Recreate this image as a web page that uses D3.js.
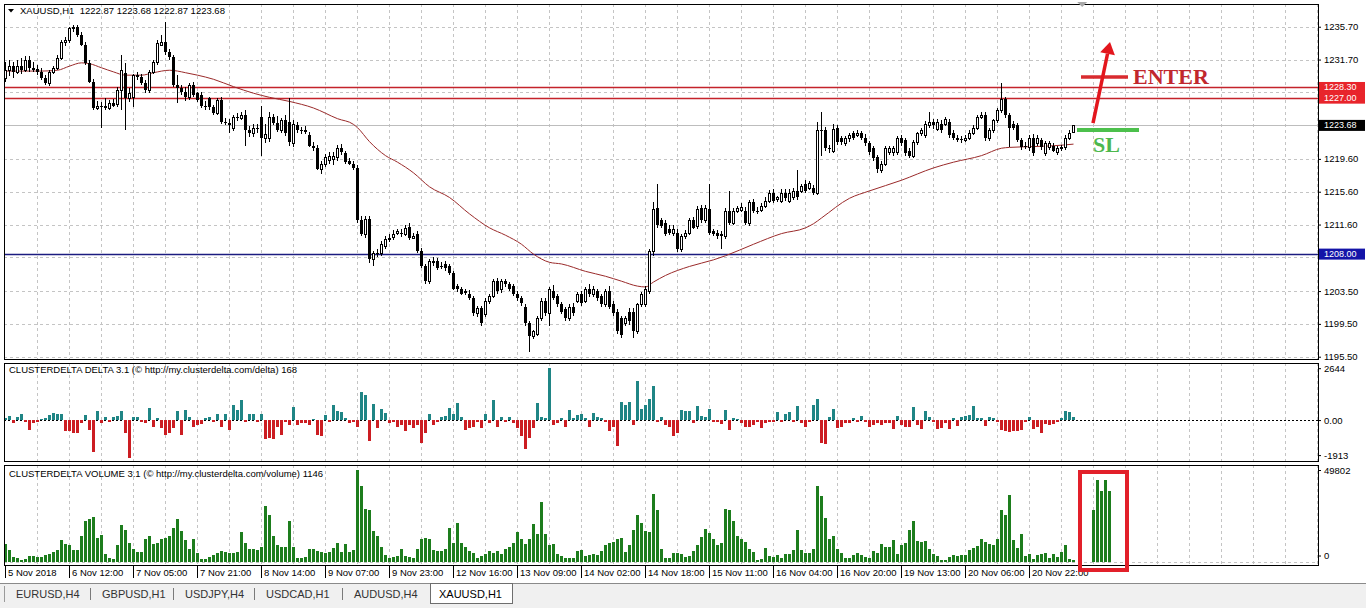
<!DOCTYPE html>
<html>
<head>
<meta charset="utf-8" />
<title>XAUUSD,H1</title>
<script src="https://d3js.org/d3.v7.min.js"></script>
<style>
    body { margin: 0; background: #fff; }
    svg { display: block; font-family: "Liberation Sans", Arial, sans-serif; }
    .ax text { font-size: 9.5px; fill: #000; }
    .ax line { stroke: #000; }
</style>
</head>
<body>
<svg id="chart" width="1366" height="608"></svg>
<script>
// ---- data ----
const symbolTitle = "XAUUSD,H1  1222.87 1223.68 1222.87 1223.68";
const deltaTitle = "CLUSTERDELTA DELTA 3.1 (\u00a9 http://my.clusterdelta.com/delta) 168";
const volumeTitle = "CLUSTERDELTA VOLUME 3.1 (\u00a9 http://my.clusterdelta.com/volume) 1146";

// one row per H1 bar: [open, high, low, close]
const ohlc = [
 [1229.5,1231.4,1229.0,1230.4],[1230.4,1231.7,1229.7,1230.9],[1230.9,1231.4,1229.5,1230.2],[1230.2,1231.7,1229.9,1230.9],[1230.9,1231.9,1229.9,1230.4],[1230.4,1232.1,1230.2,1231.7],[1231.7,1232.1,1230.2,1230.7],[1230.7,1231.4,1230.2,1230.4],
 [1230.5,1231.0,1229.8,1230.2],[1230.2,1230.7,1229.2,1229.5],[1229.5,1229.8,1228.6,1228.8],[1228.8,1230.4,1228.5,1230.2],[1230.2,1230.9,1229.9,1230.7],[1230.7,1232.3,1230.4,1231.9],[1231.9,1234.1,1231.7,1233.9],[1233.9,1234.4,1233.3,1234.1],
 [1234.1,1235.7,1233.7,1235.5],[1235.5,1235.9,1235.1,1235.7],[1235.7,1235.9,1234.5,1234.7],[1234.7,1235.0,1233.3,1233.5],[1233.5,1233.9,1231.0,1231.3],[1231.3,1231.6,1228.8,1229.0],[1229.0,1229.3,1225.5,1225.8],[1225.8,1226.6,1225.5,1226.0],
 [1226.0,1226.5,1223.4,1225.9],[1225.9,1227.0,1225.6,1226.1],[1225.8,1226.8,1225.5,1226.4],[1226.4,1226.9,1225.9,1226.1],[1226.3,1228.4,1225.9,1228.0],[1228.0,1232.3,1225.5,1230.4],[1230.1,1231.3,1223.1,1227.0],[1227.0,1228.2,1226.5,1227.6],
 [1227.1,1230.0,1225.9,1229.8],[1229.8,1230.2,1229.2,1229.6],[1229.6,1230.0,1228.6,1228.8],[1228.8,1229.2,1227.6,1228.0],[1228.0,1230.4,1227.6,1230.2],[1230.2,1231.7,1229.9,1231.4],[1231.4,1234.1,1231.0,1233.7],[1233.5,1234.7,1233.3,1233.9],
 [1233.9,1236.3,1232.3,1232.6],[1232.6,1233.0,1231.7,1232.0],[1232.0,1232.3,1228.4,1228.6],[1228.6,1229.8,1226.4,1228.2],[1228.2,1228.6,1227.4,1227.7],[1227.7,1228.3,1226.6,1227.1],[1227.1,1228.8,1226.8,1228.6],[1228.6,1229.0,1227.2,1227.4],
 [1227.6,1227.8,1226.5,1226.8],[1227.4,1227.8,1225.8,1226.1],[1226.1,1226.6,1225.6,1226.0],[1227.0,1227.2,1225.6,1225.9],[1225.9,1226.2,1224.9,1225.2],[1225.2,1227.0,1224.9,1226.8],[1226.8,1227.1,1223.8,1224.1],[1224.1,1224.6,1223.7,1224.0],
 [1224.0,1224.4,1222.7,1223.7],[1223.4,1225.0,1223.0,1224.7],[1224.7,1225.2,1224.2,1224.6],[1224.6,1225.3,1224.3,1225.0],[1225.0,1225.5,1221.2,1223.1],[1223.1,1223.6,1222.3,1222.7],[1222.7,1223.8,1222.3,1223.4],[1223.4,1223.9,1222.8,1223.2],
 [1224.7,1226.1,1220.0,1222.1],[1222.1,1223.9,1221.5,1222.6],[1222.1,1225.3,1221.6,1224.7],[1224.7,1225.1,1223.7,1224.0],[1224.0,1224.8,1222.9,1223.1],[1223.1,1224.6,1222.8,1224.3],[1224.3,1224.9,1222.4,1222.7],[1224.1,1227.0,1221.2,1221.6],
 [1221.5,1224.3,1221.0,1223.9],[1223.7,1224.1,1222.8,1223.1],[1223.1,1223.5,1222.6,1223.0],[1223.0,1223.6,1222.6,1223.1],[1222.5,1222.9,1221.0,1221.2],[1221.2,1221.6,1220.6,1220.9],[1220.9,1221.3,1218.2,1218.4],[1218.4,1219.3,1217.8,1219.0],
 [1219.0,1220.2,1218.6,1219.8],[1219.5,1220.4,1219.0,1220.0],[1219.6,1220.4,1218.8,1219.9],[1219.8,1221.3,1219.4,1220.9],[1220.9,1221.4,1220.1,1220.4],[1220.3,1220.6,1219.0,1219.2],[1219.4,1219.7,1218.8,1219.0],[1219.0,1219.4,1218.3,1218.5],
 [1218.5,1218.9,1211.8,1212.1],[1212.1,1212.6,1210.2,1210.5],[1210.5,1212.6,1210.0,1212.3],[1212.3,1212.7,1206.9,1207.4],[1207.4,1208.4,1206.6,1208.1],[1208.1,1208.6,1207.6,1208.1],[1208.1,1209.6,1207.8,1209.2],[1209.0,1210.2,1208.6,1209.9],
 [1209.9,1210.4,1209.5,1210.0],[1210.1,1210.9,1209.7,1210.5],[1210.6,1211.1,1210.3,1210.8],[1210.6,1211.0,1210.1,1210.5],[1210.5,1211.6,1210.2,1211.2],[1211.3,1211.8,1209.7,1210.0],[1210.0,1210.6,1209.8,1210.2],[1210.5,1210.8,1208.1,1208.4],
 [1208.4,1208.7,1206.3,1206.5],[1206.5,1206.8,1204.3,1204.7],[1204.7,1207.4,1204.4,1207.2],[1207.2,1207.6,1206.5,1206.9],[1207.2,1207.5,1206.1,1206.3],[1206.6,1207.0,1206.2,1206.5],[1206.8,1207.1,1206.0,1206.3],[1206.5,1206.8,1205.4,1205.7],
 [1205.7,1206.0,1203.6,1203.8],[1204.1,1204.4,1203.4,1203.7],[1203.7,1204.0,1203.0,1203.2],[1203.4,1203.8,1203.0,1203.5],[1203.2,1203.6,1202.4,1202.6],[1202.6,1202.9,1200.5,1200.8],[1200.8,1201.7,1200.3,1201.4],[1201.4,1201.7,1199.2,1199.6],
 [1200.7,1202.6,1200.3,1202.3],[1202.3,1203.1,1201.9,1202.9],[1202.9,1205.0,1202.6,1204.7],[1204.7,1205.1,1203.2,1203.5],[1203.7,1205.0,1203.3,1204.7],[1204.7,1205.0,1204.0,1204.3],[1204.3,1204.6,1203.5,1203.8],[1204.1,1204.4,1202.9,1203.2],
 [1203.2,1203.5,1202.3,1202.6],[1202.6,1202.9,1201.7,1202.0],[1201.6,1201.9,1199.2,1199.6],[1199.6,1199.9,1196.1,1198.0],[1198.0,1198.8,1197.6,1198.6],[1198.3,1200.5,1198.0,1200.2],[1200.2,1202.6,1199.8,1202.3],[1202.3,1202.6,1200.5,1200.8],
 [1200.8,1204.0,1199.2,1203.7],[1203.5,1204.2,1202.4,1202.6],[1202.9,1203.2,1201.6,1201.9],[1201.9,1202.2,1200.7,1201.0],[1201.3,1201.6,1199.9,1200.2],[1200.2,1201.9,1199.8,1201.6],[1201.6,1202.0,1200.5,1200.8],[1202.3,1203.4,1202.0,1203.1],
 [1203.1,1203.5,1201.7,1202.0],[1202.3,1204.0,1202.0,1203.7],[1203.7,1204.4,1202.8,1203.1],[1203.1,1204.1,1202.8,1203.7],[1203.5,1203.8,1202.3,1202.6],[1202.9,1203.2,1201.6,1201.9],[1201.9,1203.8,1201.5,1203.5],[1203.5,1204.1,1201.3,1201.6],
 [1201.9,1202.3,1200.5,1200.8],[1201.0,1201.3,1198.3,1198.6],[1200.2,1200.5,1197.8,1198.2],[1199.6,1200.4,1199.2,1200.2],[1201.0,1201.4,1199.4,1199.8],[1201.0,1201.4,1197.8,1198.6],[1198.6,1202.0,1198.3,1201.9],[1201.9,1203.4,1201.6,1203.1],
 [1201.9,1204.1,1201.6,1203.8],[1203.5,1208.6,1203.2,1208.4],[1208.4,1214.3,1207.8,1213.5],[1213.6,1216.6,1211.2,1211.6],[1212.1,1212.4,1211.2,1211.4],[1211.8,1212.1,1210.2,1210.5],[1211.1,1211.6,1210.3,1210.6],[1210.6,1211.5,1210.2,1211.1],
 [1210.6,1211.0,1208.3,1208.6],[1208.6,1210.5,1208.3,1210.2],[1210.2,1210.9,1209.8,1210.6],[1210.6,1212.4,1210.3,1212.1],[1212.1,1212.5,1211.0,1211.2],[1211.4,1213.9,1211.0,1213.5],[1213.6,1214.0,1211.8,1212.1],[1212.1,1214.0,1211.8,1213.6],
 [1213.5,1216.6,1210.3,1210.6],[1210.8,1211.1,1210.2,1210.5],[1210.6,1210.9,1209.9,1210.2],[1210.5,1210.8,1208.6,1210.2],[1210.2,1213.6,1209.9,1213.3],[1213.3,1215.7,1211.5,1211.8],[1211.8,1213.6,1211.5,1213.3],[1213.3,1213.9,1213.0,1213.6],
 [1213.4,1214.2,1213.1,1213.8],[1213.3,1213.7,1211.5,1211.8],[1211.8,1214.6,1211.4,1214.3],[1214.3,1214.7,1213.0,1213.3],[1213.3,1213.7,1212.9,1213.3],[1213.4,1214.2,1213.1,1213.9],[1213.9,1214.9,1213.6,1214.5],[1214.5,1215.8,1214.2,1215.5],
 [1215.5,1215.9,1214.2,1214.5],[1214.7,1215.1,1214.4,1214.9],[1214.5,1215.9,1214.2,1215.5],[1215.5,1215.9,1214.5,1214.8],[1214.5,1215.9,1214.2,1215.5],[1214.9,1216.0,1214.6,1215.7],[1215.7,1218.2,1214.6,1214.9],[1215.7,1216.6,1215.4,1216.3],
 [1216.6,1217.0,1215.4,1215.7],[1216.1,1216.9,1215.8,1216.7],[1216.1,1216.4,1215.2,1215.5],[1215.5,1224.1,1215.2,1223.1],[1223.1,1225.3,1220.0,1223.0],[1223.1,1223.5,1220.6,1220.9],[1220.9,1221.3,1220.3,1220.8],[1220.6,1223.8,1220.3,1223.3],
 [1223.4,1223.7,1221.3,1221.6],[1222.1,1222.4,1221.3,1221.6],[1221.5,1222.4,1221.2,1222.1],[1222.1,1222.8,1221.7,1222.5],[1222.7,1223.0,1221.9,1222.2],[1222.5,1223.1,1222.3,1222.8],[1222.7,1223.0,1221.9,1222.2],[1222.2,1222.6,1221.2,1221.5],
 [1221.5,1221.8,1220.1,1220.4],[1220.9,1221.2,1219.4,1219.7],[1219.8,1220.1,1217.9,1218.4],[1218.2,1219.3,1217.9,1219.0],[1219.0,1221.2,1218.7,1220.9],[1220.4,1221.2,1220.1,1220.9],[1220.4,1221.2,1220.0,1220.9],[1220.4,1222.4,1220.1,1222.1],
 [1222.1,1222.5,1221.2,1221.5],[1221.9,1222.2,1219.9,1220.3],[1220.6,1220.9,1219.7,1220.0],[1220.0,1221.9,1219.7,1221.6],[1221.6,1222.9,1221.3,1222.7],[1222.7,1223.4,1222.4,1223.1],[1222.5,1224.2,1222.2,1223.9],[1223.7,1225.3,1223.4,1224.1],
 [1224.1,1224.4,1223.3,1223.7],[1223.3,1224.4,1223.0,1224.1],[1223.9,1224.3,1222.8,1223.1],[1223.9,1224.7,1223.6,1224.4],[1224.1,1224.4,1222.2,1222.5],[1222.8,1223.1,1221.9,1222.2],[1222.2,1222.5,1221.6,1221.9],[1222.0,1222.4,1221.5,1221.9],
 [1221.9,1222.5,1221.6,1222.2],[1222.2,1223.1,1221.9,1222.8],[1222.8,1223.7,1222.5,1223.4],[1223.4,1224.9,1223.1,1224.7],[1224.7,1225.3,1224.4,1224.9],[1224.9,1225.3,1221.8,1222.1],[1222.1,1223.4,1221.8,1223.1],[1223.1,1224.5,1222.8,1224.3],
 [1224.3,1225.8,1224.0,1225.5],[1225.5,1228.8,1225.2,1226.9],[1226.9,1227.2,1224.6,1224.9],[1224.9,1225.2,1221.0,1223.4],[1223.9,1224.2,1223.1,1223.4],[1223.7,1224.0,1221.6,1221.9],[1221.9,1222.2,1220.7,1221.0],[1221.2,1221.6,1220.8,1221.2],
 [1221.0,1222.5,1220.6,1222.2],[1222.2,1222.6,1220.0,1220.3],[1221.5,1222.5,1221.2,1222.1],[1221.9,1222.2,1220.7,1221.0],[1220.3,1221.8,1220.0,1221.5],[1221.0,1221.8,1220.7,1221.5],[1221.2,1221.5,1220.4,1220.6],[1220.4,1221.2,1220.1,1220.9],
 [1220.9,1221.3,1220.6,1221.0],[1221.0,1222.5,1220.7,1222.2],[1222.2,1223.1,1221.9,1222.8],[1222.87,1223.68,1222.87,1223.68]
];

// red moving average, read at a subset of bars
const maBars = [0,4,9,13,16,19,21,24,27,30,34,37,41,43,45,48,52,57,62,66,71,77,83,87,88,91,95,98,102,106,111,116,121,125,129,132,136,139,145,150,154,158,160,162,165,171,177,180,187,194,200,202,204,211,216,224,232,237,244,249,251,257,262,267];
const maValues = [1230.3,1230.3,1230.3,1230.4,1230.9,1231.3,1231.2,1230.7,1230.2,1229.8,1229.8,1230.1,1230.4,1230.3,1230.1,1229.8,1229.3,1228.4,1227.6,1227.1,1226.6,1225.8,1224.5,1223.8,1223.4,1221.7,1220.0,1219.2,1217.9,1216.2,1214.9,1212.9,1211.2,1210.3,1209.2,1208.0,1207.0,1206.8,1205.9,1205.3,1204.7,1204.1,1204.0,1204.6,1205.4,1206.5,1207.3,1207.8,1209.2,1210.5,1211.2,1211.7,1212.4,1214.8,1215.7,1217.0,1218.5,1219.2,1220.0,1220.9,1221.0,1221.1,1221.2,1221.4];

// delta histogram, one value per bar
const delta = [100,
 198,-132,132,330,-83,-495,-132,-83,50,83,248,363,330,297,-578,-578,-660,-660,-132,248,
 -495,-1617,462,-165,132,-83,132,198,462,-660,-1913,165,132,-83,-132,627,-330,83,-413,-743,
 -660,-413,462,-743,495,165,-330,-248,-198,83,132,-83,297,-330,330,-495,743,495,1023,-83,
 297,297,-83,330,-957,-908,-990,-330,-743,-83,-248,660,-248,-165,-165,-248,50,-743,-792,248,
 -83,743,462,413,83,-165,-83,-363,1452,1287,-1073,825,-413,578,363,-165,-83,-330,-248,-578,
 -248,-413,-248,-1155,-660,297,-248,-83,165,198,627,330,858,165,-495,-413,-330,-83,-413,297,
 -165,1023,-330,165,-83,132,-165,-413,-792,-1485,-908,-413,858,132,83,2644,
 -248,-132,83,-330,528,83,248,297,83,-363,363,165,83,-83,-578,-330,-1320,908,743,908,
 -248,1980,578,743,1073,1733,-83,165,-248,-330,-792,-660,528,462,462,-132,693,198,132,578,
 -83,-83,-198,528,-495,83,50,-165,-330,-330,-248,-83,-413,-165,-83,-83,413,-83,297,413,
 -83,693,-165,-330,-83,792,1073,-1155,-1238,132,578,-413,-330,-165,-132,83,-83,198,-83,-330,
 -248,-132,-248,-165,-132,-462,198,-248,-330,-363,660,-248,-462,462,132,-83,-462,-413,-132,-462,
 83,-297,132,198,248,693,83,83,-297,132,83,-83,-528,-578,-627,-578,-578,-528,-83,132,
 -462,-330,-660,-198,-248,-198,-83,83,462,413,168];

// volume histogram, one value per bar (bars 268-271 empty, 272-276 ahead of price)
const volume = [
 9490,6450,2870,2150,1070,1790,3040,3220,2870,2510,3580,4120,5370,6450,11640,9490,
 8960,6450,6450,13970,22030,23280,24360,13070,14860,4120,2150,1790,8960,20240,17550,10030,
 7160,5370,5370,12180,13970,9490,10030,12540,13070,13970,18450,23460,17010,11820,7160,12180,
 4660,1790,1430,2870,3580,5010,5730,5370,4660,5010,5370,16120,10390,6810,6810,6450,
 8240,30090,25610,13970,8960,8240,8240,22030,8240,2150,2150,2870,7160,7160,5910,5370,
 4660,5370,7700,10030,5370,9490,5370,6450,49802,41190,28660,28300,16660,14330,8240,3580,
 2150,2870,3220,6810,3220,2690,2150,6810,12180,13070,12180,6450,5910,5910,7160,18450,
 10030,21130,10030,8240,5730,5010,2150,3220,4300,6090,4660,5910,4300,6810,8240,10390,
 16120,12540,9490,12180,20780,15400,32240,15400,8960,9490,4480,3220,1970,1970,1970,5730,
 6450,3220,3580,4120,3580,5730,8960,10390,10750,12180,13070,5370,8960,17190,25610,21130,
 16660,16120,36890,28300,7160,2330,2330,4660,4660,4300,2870,3220,5910,8960,13610,17910,
 15760,12540,8960,10030,28660,28300,22030,14330,12180,10750,7160,5370,1070,1790,7700,3220,
 2870,3580,2330,4120,4480,6270,17190,6450,4660,4660,6810,41190,35820,23820,12540,14330,
 6810,4660,2150,2330,3580,4660,3580,2870,2330,5910,5010,9490,8240,8240,11640,4120,
 8960,10030,17550,22030,11280,10750,11280,6810,4120,3220,1070,900,2870,3580,3220,3760,
 3580,6450,7700,8600,12180,10750,9490,8960,12180,27940,25610,36360,11820,7700,15400,3220,
 4120,1790,3580,4120,4660,2330,4120,2870,5370,8960,1790,1146,
 0,0,0,0,28300,44420,38690,44420,38690];

const priceTicks = [1235.70, 1231.70, 1227.70, 1223.70, 1219.60, 1215.60, 1211.60, 1207.60, 1203.50, 1199.50, 1195.50];
const coveredTicks = [1227.70, 1223.70, 1207.60]; // hidden under the price tags
const deltaTicks = [2644, 0, -1913];
const volumeTicks = [49802, 0];
const levelValues = [1228.30, 1227.00, 1208.00];
const bidValue = 1223.68;

const timeBars = d3.range(0, 257, 16);
const timeLabels = ["5 Nov 2018","6 Nov 12:00","7 Nov 05:00","7 Nov 21:00","8 Nov 14:00","9 Nov 07:00","9 Nov 23:00","12 Nov 16:00","13 Nov 09:00","14 Nov 02:00","14 Nov 18:00","15 Nov 11:00","16 Nov 04:00","16 Nov 20:00","19 Nov 13:00","20 Nov 06:00","20 Nov 22:00"];
const tabNames = ["EURUSD,H4","GBPUSD,H1","USDJPY,H4","USDCAD,H1","AUDUSD,H4","XAUUSD,H1"];

// hand-drawn notes, anchored in bar / price units
const enterBar = { from: 269, to: 280.75, price: 1229.57 };
const slBar = { from: 268, to: 283.5, price: 1223.12 };
const arrowFrom = [272, 1223.97], arrowTo = [276.25, 1233.84];
const enterText = [282, 1228.75], slText = [272, 1220.4];
const volumeBox = { from: 268.75, to: 280.5, top: 48720, bottom: -4330 };

// ---- layout ----
const svg = d3.select("#chart");
const left = 4, right = 1318;
const panels = [[4, 360], [363, 462], [465, 566]];

const x = d3.scaleLinear().domain([0, 328]).range([5, 1317]);
const yP = d3.scaleLinear().domain([1195.10, 1238.47]).range([360, 4]);
const yD = d3.scaleLinear().domain([-1913, 2644]).range([457.6, 368.2]);
const yV = d3.scaleLinear().domain([0, 49802]).range([562, 470]);

// grid
const gridBars = d3.range(8, 329, 8);
panels.forEach(([t, b]) => {
    svg.append("g").selectAll("line").data(gridBars).join("line")
        .attr("x1", (d) => x(d) + 0.5).attr("x2", (d) => x(d) + 0.5)
        .attr("y1", t).attr("y2", b)
        .attr("stroke", "#c4c4c4").attr("stroke-dasharray", "3,3");
});
svg.append("g").selectAll("line").data(priceTicks).join("line")
    .attr("x1", left).attr("x2", right)
    .attr("y1", (d) => Math.round(yP(d)) + 0.5).attr("y2", (d) => Math.round(yP(d)) + 0.5)
    .attr("stroke", "#c4c4c4").attr("stroke-dasharray", "3,3");

// bid line
svg.append("line").attr("x1", left).attr("x2", right)
    .attr("y1", Math.round(yP(bidValue)) + 0.5).attr("y2", Math.round(yP(bidValue)) + 0.5)
    .attr("stroke", "#bdbdbd");

// horizontal levels
const levelColors = ["#c4232b", "#c4232b", "#1c1c80"];
svg.append("g").selectAll("line").data(levelValues).join("line")
    .attr("x1", left).attr("x2", right)
    .attr("y1", (d) => Math.round(yP(d)) + 0.5).attr("y2", (d) => Math.round(yP(d)) + 0.5)
    .attr("stroke", (d, i) => levelColors[i]).attr("stroke-width", 1.3);

// moving average
const ma = maBars.map((b, i) => [b, maValues[i]]);
svg.append("path").datum(ma)
    .attr("d", d3.line().x((d) => x(d[0]) + 0.5).y((d) => yP(d[1])).curve(d3.curveMonotoneX))
    .attr("fill", "none").attr("stroke", "#9a2a2a").attr("stroke-width", 1);

// candles
const cg = svg.append("g").attr("shape-rendering", "crispEdges");
ohlc.forEach((c, i) => {
    const [o, h, l, cl] = c;
    const cx = x(i);
    cg.append("line").attr("x1", cx + 0.5).attr("x2", cx + 0.5)
        .attr("y1", yP(h)).attr("y2", yP(l)).attr("stroke", "#000");
    const top = Math.round(yP(Math.max(o, cl)));
    const bot = Math.round(yP(Math.min(o, cl)));
    if (cl >= o) {
        cg.append("rect").attr("x", cx - 0.5).attr("y", top + 0.5)
            .attr("width", 2).attr("height", Math.max(bot - top, 0.01))
            .attr("fill", "#fff").attr("stroke", "#000");
    } else {
        cg.append("rect").attr("x", cx - 1).attr("y", top)
            .attr("width", 3).attr("height", Math.max(bot - top, 1)).attr("fill", "#000");
    }
});

// delta histogram
svg.append("line").attr("x1", left).attr("x2", right)
    .attr("y1", Math.round(yD(0)) + 0.5).attr("y2", Math.round(yD(0)) + 0.5)
    .attr("stroke", "#000").attr("stroke-dasharray", "2,2");
svg.append("g").attr("shape-rendering", "crispEdges")
    .selectAll("rect").data(delta).join("rect")
    .attr("x", (d, i) => x(i) - 1).attr("width", 3)
    .attr("y", (d) => Math.min(yD(d), yD(0)))
    .attr("height", (d) => Math.abs(yD(d) - yD(0)))
    .attr("fill", (d) => (d >= 0 ? "#1f8585" : "#cc1d22"));

// volume histogram
svg.append("line").attr("x1", left).attr("x2", right)
    .attr("y1", yV(0) + 0.5).attr("y2", yV(0) + 0.5)
    .attr("stroke", "#c4c4c4").attr("stroke-dasharray", "3,3");
svg.append("g").attr("shape-rendering", "crispEdges")
    .selectAll("rect").data(volume).join("rect")
    .attr("x", (d, i) => x(i) - 1).attr("width", 3)
    .attr("y", (d) => yV(d)).attr("height", (d) => yV(0) - yV(d))
    .attr("fill", "#1d7d1d");

// panel frames
panels.forEach(([t, b]) => {
    svg.append("rect").attr("x", left + 0.5).attr("y", t + 0.5)
        .attr("width", right - left).attr("height", b - t - 1)
        .attr("fill", "none").attr("stroke", "#000");
});

// right axes
svg.append("g").attr("class", "ax").attr("transform", `translate(${right},0)`)
    .call(d3.axisRight(yP).tickValues(priceTicks).tickFormat(d3.format(".2f")).tickSize(3).tickPadding(3))
    .call((g) => g.select(".domain").remove())
    .call((g) => g.selectAll(".tick").filter((d) => coveredTicks.includes(d)).select("text").remove());
svg.append("g").attr("class", "ax").attr("transform", `translate(${right},0)`)
    .call(d3.axisRight(yD).tickValues(deltaTicks).tickFormat((d) => (d === 0 ? "0.00" : d)).tickSize(3).tickPadding(3))
    .call((g) => g.select(".domain").remove())
    .call((g) => g.selectAll(".tick").filter((d) => d === -1913).attr("transform", `translate(0,${yD(-1913) - 2})`));
svg.append("g").attr("class", "ax").attr("transform", `translate(${right},0)`)
    .call(d3.axisRight(yV).tickValues(volumeTicks).tickFormat(d3.format("d")).tickSize(3).tickPadding(3))
    .call((g) => g.select(".domain").remove())
    .call((g) => g.selectAll(".tick").filter((d) => d === 0).attr("transform", `translate(0,${yV(0) - 6})`));

// price labels on the axis
const tagColors = ["#e8242b", "#e8242b", "#1414a8"];
const tags = levelValues.map((v, i) => ({ v, c: tagColors[i] })).concat([{ v: bidValue, c: "#000" }]);
const tg = svg.append("g");
tags.forEach((t) => {
    const cy = yP(t.v);
    tg.append("rect").attr("x", right + 1).attr("y", cy - 5.5).attr("width", 46).attr("height", 11).attr("fill", t.c);
    tg.append("text").attr("x", right + 6).attr("y", cy).attr("dy", "0.33em")
        .attr("font-size", 9).attr("fill", "#fff").text(d3.format(".2f")(t.v));
});

// time axis
const tx = svg.append("g");
timeBars.forEach((b, i) => {
    tx.append("line").attr("x1", x(b) + 0.5).attr("x2", x(b) + 0.5).attr("y1", 566).attr("y2", 578).attr("stroke", "#000");
    tx.append("text").attr("x", x(b) + 3).attr("y", 576).attr("font-size", 9.5).text(timeLabels[i]);
});

// titles
svg.append("path").attr("d", "M8,9 L14,9 L11,12.5 Z").attr("fill", "#000");
svg.append("text").attr("x", 20).attr("y", 14).attr("font-size", 9.5).attr("xml:space", "preserve").text(symbolTitle);
svg.append("text").attr("x", 9).attr("y", 373).attr("font-size", 9.5).text(deltaTitle);
svg.append("text").attr("x", 9).attr("y", 477).attr("font-size", 9.5).text(volumeTitle);

// chart shift marker
const sx = x(269.3);
svg.append("path").attr("d", `M${sx - 5},2 L${sx + 5},2 L${sx},7 Z`).attr("fill", "#a8a8a8");

// notes
const ng = svg.append("g");
ng.append("line").attr("x1", x(enterBar.from)).attr("x2", x(enterBar.to))
    .attr("y1", yP(enterBar.price)).attr("y2", yP(enterBar.price))
    .attr("stroke", "#d92b2f").attr("stroke-width", 3.5);
const ax0 = x(arrowFrom[0]), ay0 = yP(arrowFrom[1]);
const ax1 = x(arrowTo[0]), ay1 = yP(arrowTo[1]);
const len = Math.hypot(ax1 - ax0, ay1 - ay0);
const ux = (ax1 - ax0) / len, uy = (ay1 - ay0) / len;
const headL = 12, headW = 7.5;
const bx = ax1 - ux * headL, by = ay1 - uy * headL;
ng.append("line").attr("x1", ax0).attr("y1", ay0).attr("x2", bx).attr("y2", by)
    .attr("stroke", "#e3161d").attr("stroke-width", 3.5);
ng.append("path")
    .attr("d", `M${ax1},${ay1} L${bx - uy * headW},${by + ux * headW} L${bx + uy * headW},${by - ux * headW} Z`)
    .attr("fill", "#e3161d");
ng.append("text").attr("x", x(enterText[0])).attr("y", yP(enterText[1]))
    .attr("font-family", "'Liberation Serif', 'Times New Roman', serif").attr("font-weight", "bold")
    .attr("font-size", 22).attr("fill", "#c1272d").text("ENTER");
ng.append("line").attr("x1", x(slBar.from)).attr("x2", x(slBar.to))
    .attr("y1", yP(slBar.price)).attr("y2", yP(slBar.price))
    .attr("stroke", "#4cc04c").attr("stroke-width", 4);
ng.append("text").attr("x", x(slText[0])).attr("y", yP(slText[1]))
    .attr("font-family", "'Liberation Serif', 'Times New Roman', serif").attr("font-weight", "bold")
    .attr("font-size", 22).attr("fill", "#4db84d").text("SL");
ng.append("rect").attr("x", x(volumeBox.from)).attr("y", yV(volumeBox.top))
    .attr("width", x(volumeBox.to) - x(volumeBox.from)).attr("height", yV(volumeBox.bottom) - yV(volumeBox.top))
    .attr("fill", "none").attr("stroke", "#e2202a").attr("stroke-width", 4);

// tab bar
svg.append("rect").attr("x", 0).attr("y", 583).attr("width", 1366).attr("height", 25).attr("fill", "#f0f0f0");
svg.append("line").attr("x1", 0).attr("x2", 1366).attr("y1", 583.5).attr("y2", 583.5).attr("stroke", "#8a8a8a");
const tabX = [16, 102, 185, 266, 354, 439];
svg.append("rect").attr("x", 430.5).attr("y", 583.5).attr("width", 82).attr("height", 20).attr("fill", "#fff").attr("stroke", "#6e6e6e");
tabNames.forEach((n, i) => {
    svg.append("text").attr("x", tabX[i]).attr("y", 598).attr("font-size", 11)
        .attr("fill", i === tabNames.length - 1 ? "#000" : "#333").text(n);
    if (i > 0 && i < tabNames.length - 1) {
        svg.append("line").attr("x1", tabX[i] - 11.5).attr("x2", tabX[i] - 11.5).attr("y1", 588).attr("y2", 600).attr("stroke", "#7a7a7a");
    }
});
svg.append("line").attr("x1", 4.5).attr("x2", 4.5).attr("y1", 586).attr("y2", 602).attr("stroke", "#9a9a9a");
</script>
</body>
</html>
